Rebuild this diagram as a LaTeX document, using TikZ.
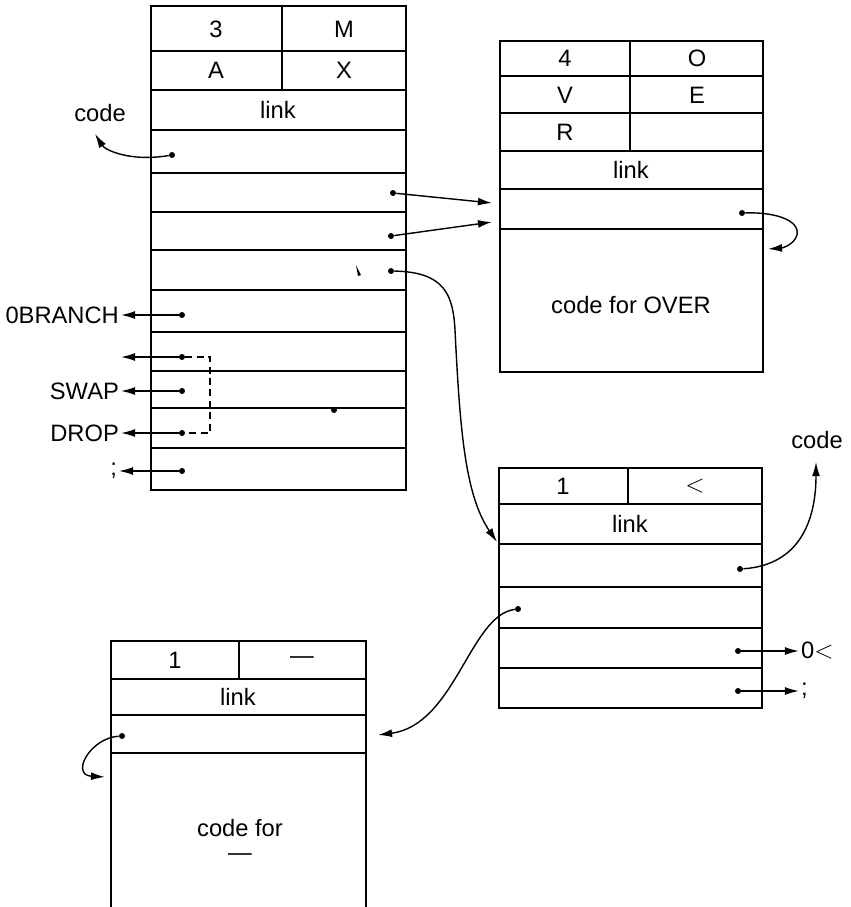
\documentclass[tikz,border=0pt]{standalone}
\usepackage{fontspec}
\setmainfont{Liberation Sans}
\usetikzlibrary{arrows.meta}

\tikzset{
  cell/.style={draw, line width=0.8pt},
  dot/.style={circle, fill, inner sep=0pt, minimum size=3.4pt},
  ptr/.style={line width=0.8pt, -{Latex[length=8pt,width=4.5pt]}},
  lbl/.style={font=\fontsize{13.5}{13.6}\selectfont, inner sep=1pt},
}

\begin{document}
\begin{tikzpicture}[x=0.02cm, y=-0.02cm]
		\useasboundingbox (0,0) rectangle (851,907);
		
		% Bloc MAX (en haut a gauche)
		\draw[cell] (151,6) rectangle (406,490);
		\foreach \y in {51,90,130,173,212,250,290,332,371,408,448}
		\draw[cell] (151,\y) -- (406,\y);
		\draw[cell] (282,6) -- (282,90);
		\node[lbl] (a3) at (216,29) {3};
		\node[lbl] (aM) at (344,29) {M};
		\node[lbl] (aA) at (216,70) {A};
		\node[lbl] (aX) at (344,70) {X};
		\node[lbl] (alink) at (278,110) {link};
		
		% Pointeurs du bloc MAX
		\node[dot] (a4) at (172,155) {};
		\node[dot] (a5) at (393,193) {};
		\node[dot] (a6) at (391,236) {};
		\node[dot] (a7) at (391,271) {};
		\node[dot] (a9) at (182,315) {};
		\node[dot] (a10) at (182,357) {};
		\node[dot] (a11) at (182,391) {};
		\node[dot] (a12) at (182,433) {};
		\node[dot] (a13) at (182,471) {};
		\node[dot] (astray) at (334,410) {};
		\fill (356,265) -- (361,275) -- (358,276) -- cycle;
		
		\node[lbl] (codeA) at (100,113) {code};
		\coordinate (codeAtip) at (95,134);
		\draw[ptr] (a4) .. controls (130,162) and (105,150) .. (codeAtip);
		
		\node[lbl, anchor=east] (obranch) at (121,315) {0BRANCH};
		\coordinate (blank) at (121,357);
		\node[lbl, anchor=east] (swap) at (121,391) {SWAP};
		\node[lbl, anchor=east] (drop) at (121,433) {DROP};
		\node[lbl, anchor=east] (semiA) at (119,471) {;};
		\draw[ptr] (a9) -- (obranch.east);
		\draw[ptr] (a10) -- (blank);
		\draw[ptr] (a11) -- (swap.east);
		\draw[ptr] (a12) -- (drop.east);
		\draw[ptr] (a13) -- (semiA.east);
		\draw[line width=0.8pt, dash pattern=on 4pt off 2.5pt]
		(a10) -- (210,357) -- (210,433) -- (a12);
		
		% Bloc OVER (en haut a droite)
		\draw[cell] (500,41) rectangle (763,372);
		\foreach \y in {76,113,151,189,229}
		\draw[cell] (500,\y) -- (763,\y);
		\draw[cell] (630,41) -- (630,151);
		\node[lbl] (b4) at (565,58) {4};
		\node[lbl] (bO) at (697,58) {O};
		\node[lbl] (bV) at (565,95) {V};
		\node[lbl] (bE) at (697,95) {E};
		\node[lbl] (bR) at (565,132) {R};
		\node[lbl] (blink) at (631,170) {link};
		\node[lbl] (bcode) at (631,305) {code for OVER};
		\node[dot] (b5) at (742,213) {};
		\coordinate (bin1) at (492,203);
		\coordinate (bin2) at (492,222);
		\coordinate (bself) at (768,249);
		\draw[ptr] (a5) -- (bin1);
		\draw[ptr] (a6) -- (bin2);
		\draw[ptr] (b5) .. controls (775,212) and (800,220) .. (797,235)
		.. controls (794,245) and (782,248) .. (bself);
		
		% Bloc 0< (en bas a droite)
		\draw[cell] (499,468) rectangle (762,708);
		\foreach \y in {504,544,587,628,668}
		\draw[cell] (499,\y) -- (762,\y);
		\draw[cell] (628,468) -- (628,504);
		\node[lbl] (c1) at (563,486) {1};
		\node[lbl] (clt) at (695,486) {$<$};
		\node[lbl] (clink) at (630,524) {link};
		\node[dot] (c3) at (740,569) {};
		\node[dot] (c4) at (518,609) {};
		\node[dot] (c5) at (738,651) {};
		\node[dot] (c6) at (738,691) {};
		\coordinate (cin) at (497,542);
		\draw[ptr] (a7) .. controls (445,272) and (453,295) .. (455,330)
		.. controls (460,430) and (465,495) .. (cin);
		
		\node[lbl] (codeC) at (817,440) {code};
		\coordinate (codeCtip) at (816,462);
		\draw[ptr] (c3) .. controls (800,565) and (816,520) .. (codeCtip);
		\node[lbl, anchor=west] (zlt) at (799,651) {0$<$};
		\node[lbl, anchor=west] (semiC) at (799,691) {;};
		\draw[ptr] (c5) -- (zlt.west);
		\draw[ptr] (c6) -- (semiC.west);
		
		% Bloc -- (en bas a gauche)
		\draw[cell] (111,907) -- (111,641) -- (366,641) -- (366,907);
		\foreach \y in {679,715,753}
		\draw[cell] (111,\y) -- (366,\y);
		\draw[cell] (239,641) -- (239,679);
		\node[lbl] (d1) at (175,660) {1};
		\node[lbl] (ddash) at (302,660) {\textemdash};
		\node[lbl] (dlink) at (238,697) {link};
		\node[lbl, align=center] (dcode) at (240,840) {code for\\\textemdash};
		\node[dot] (d3) at (122,736) {};
		\coordinate (din) at (378,735);
		\coordinate (dself) at (105,777);
		\draw[ptr] (c4) .. controls (470,615) and (455,725) .. (din);
		\draw[ptr] (d3) .. controls (90,738) and (70,775) .. (dself);
\end{tikzpicture}
\end{document}
